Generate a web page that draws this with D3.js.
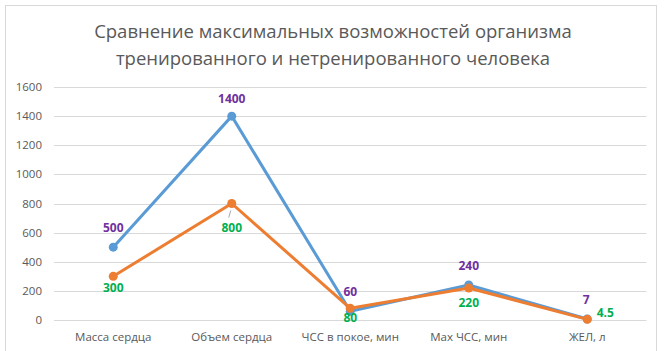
<!DOCTYPE html>
<html>
<head>
<meta charset="utf-8">
<script src="https://cdn.jsdelivr.net/npm/d3@7"></script>
<style>
  html, body { margin: 0; padding: 0; background: #fff; }
  #chart { width: 666px; height: 351px; }
  text { font-family: "Open Sans", "Noto Sans", sans-serif; }
</style>
</head>
<body>
<div id="chart"></div>
<script>
"use strict";

const categories = [
  "Масса сердца",
  "Объем сердца",
  "ЧСС в покое, мин",
  "Max ЧСС, мин",
  "ЖЕЛ, л",
];
const trained = [500, 1400, 60, 240, 7];
const untrained = [300, 800, 80, 220, 4.5];
const yTicks = [0, 200, 400, 600, 800, 1000, 1200, 1400, 1600];
const titleLines = [
  "Сравнение максимальных возможностей организма",
  "тренированного и нетренированного человека",
];

// label offsets relative to the point (layout only)
const trainedLabelOffsets = [[0, -19], [0, -17], [0, -19], [0, -19], [-1, -19]];
const untrainedLabelOffsets = [[0, 12], [0, 24], [0, 10], [0, 15], [18, -6]];

function draw() {
  const w = 666, h = 351;
  const svg = d3.select("#chart").append("svg")
    .attr("width", w).attr("height", h);

  // chart frame
  svg.append("rect")
    .attr("x", 5.5).attr("y", 5.5)
    .attr("width", 651).attr("height", 360)
    .attr("fill", "#fff").attr("stroke", "#d9d9d9");

  svg.append("g").selectAll("text")
    .data(titleLines).enter().append("text")
    .attr("x", 333).attr("y", (d, i) => 38 + i * 27)
    .attr("text-anchor", "middle")
    .attr("font-size", 18.5).attr("fill", "#595959")
    .text((d) => d);

  const x = d3.scaleBand().domain(categories).range([54, 646.5]);
  const y = d3.scaleLinear().domain([0, 1600]).range([320, 87]);

  // gridlines
  svg.append("g").selectAll("line")
    .data(yTicks).enter().append("line")
    .attr("x1", 54).attr("x2", 646.5)
    .attr("y1", (d) => Math.round(y(d)) + 0.5)
    .attr("y2", (d) => Math.round(y(d)) + 0.5)
    .attr("stroke", "#d9d9d9").attr("stroke-width", 1);

  // y labels
  svg.append("g").selectAll("text")
    .data(yTicks).enter().append("text")
    .attr("x", 42).attr("y", (d) => y(d) + 4)
    .attr("text-anchor", "end")
    .attr("font-size", 11.5).attr("fill", "#595959")
    .text((d) => d);

  // x labels
  svg.append("g").selectAll("text")
    .data(categories).enter().append("text")
    .attr("x", (d) => x(d) + x.bandwidth() / 2).attr("y", 341)
    .attr("text-anchor", "middle")
    .attr("font-size", 11.5).attr("fill", "#595959")
    .text((d) => d);

  const cx = (i) => x(categories[i]) + x.bandwidth() / 2;
  const line = d3.line().x((d, i) => cx(i)).y((d) => y(d));

  const series = [
    { values: trained, color: "#5b9bd5", labelColor: "#7030a0", offsets: trainedLabelOffsets },
    { values: untrained, color: "#ed7d31", labelColor: "#00b050", offsets: untrainedLabelOffsets },
  ];

  series.forEach((s) => {
    svg.append("path")
      .datum(s.values)
      .attr("d", line)
      .attr("fill", "none")
      .attr("stroke", s.color)
      .attr("stroke-width", 3)
      .attr("stroke-linejoin", "round");

    svg.append("g").selectAll("circle")
      .data(s.values).enter().append("circle")
      .attr("cx", (d, i) => cx(i)).attr("cy", (d) => y(d))
      .attr("r", 4.5).attr("fill", s.color);
  });

  // leader line for 800
  svg.append("line")
    .attr("x1", cx(1) - 1).attr("y1", y(untrained[1]) + 7)
    .attr("x2", cx(1) - 3).attr("y2", y(untrained[1]) + 14)
    .attr("stroke", "#a6a6a6").attr("stroke-width", 1);

  series.forEach((s) => {
    svg.append("g").selectAll("text")
      .data(s.values).enter().append("text")
      .attr("x", (d, i) => cx(i) + s.offsets[i][0])
      .attr("y", (d, i) => y(d) + s.offsets[i][1] + 4)
      .attr("text-anchor", "middle")
      .attr("font-size", 12).attr("font-weight", "bold")
      .attr("fill", s.labelColor)
      .text((d) => d);
  });
}

draw();
</script>
</body>
</html>
